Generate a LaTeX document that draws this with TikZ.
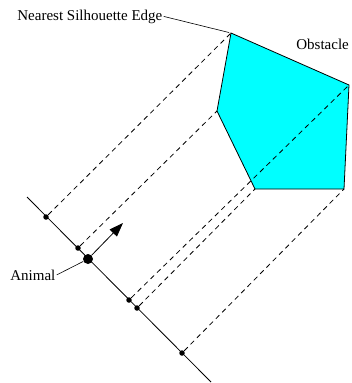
\documentclass[tikz,border=0pt]{standalone}
\usepackage{fontspec}
\setmainfont{Liberation Serif}
\usetikzlibrary{arrows.meta}
\definecolor{obst}{RGB}{0,255,255}
\tikzset{
  >={Triangle[length=14pt,width=10pt]},
  d/.style={circle,fill,inner sep=0pt,minimum size=5.5pt},
  big/.style={circle,fill,inner sep=0pt,minimum size=10pt},
  lbl/.style={inner sep=1pt,font=\fontsize{15}{17}\selectfont},
  proj/.style={dash pattern=on 5pt off 4pt},
  every picture/.style={line width=0.8pt},
}
\begin{document}
\begin{tikzpicture}[x=1pt,y=-1pt]
\useasboundingbox (0,0) rectangle (351,383);
% obstacle
\coordinate (T) at (231,33); \coordinate (R) at (349,85); \coordinate (BR) at (344,189);
\coordinate (BL) at (255,189); \coordinate (L) at (217,111);
\draw[fill=obst] (T)--(R)--(BR)--(BL)--(L)--cycle;
% projection line with the animal
\coordinate (S) at (27,197); \coordinate (E) at (211,382);
\draw (S)--(E);
\node[d] (P1) at (46,217){}; \node[d] (P2) at (78,248){};
\node[big] (An) at (88,259){}; \node[d] (P3) at (129,300){};
\node[d] (P4) at (137,308){}; \node[d] (P5) at (182,353){};
\draw[proj] (P1)--(T); \draw[proj] (P2)--(L); \draw[proj] (P3)--(R);
\draw[proj] (P4)--(BL); \draw[proj] (P5)--(BR);
\coordinate (H) at (123,223);
\draw[->] (An)--(H);
% labels
\node[lbl,anchor=base west] (edge) at (16,20) {Nearest Silhouette Edge};
\node[lbl,anchor=base west] (obs) at (295,49) {Obstacle};
\node[lbl,anchor=base west] (anim) at (9,280) {Animal};
\draw[line width=0.6pt,shorten >=2pt] (edge.east)--(T);
\draw[line width=0.6pt] (anim.east)--(An);
\end{tikzpicture}
\end{document}
